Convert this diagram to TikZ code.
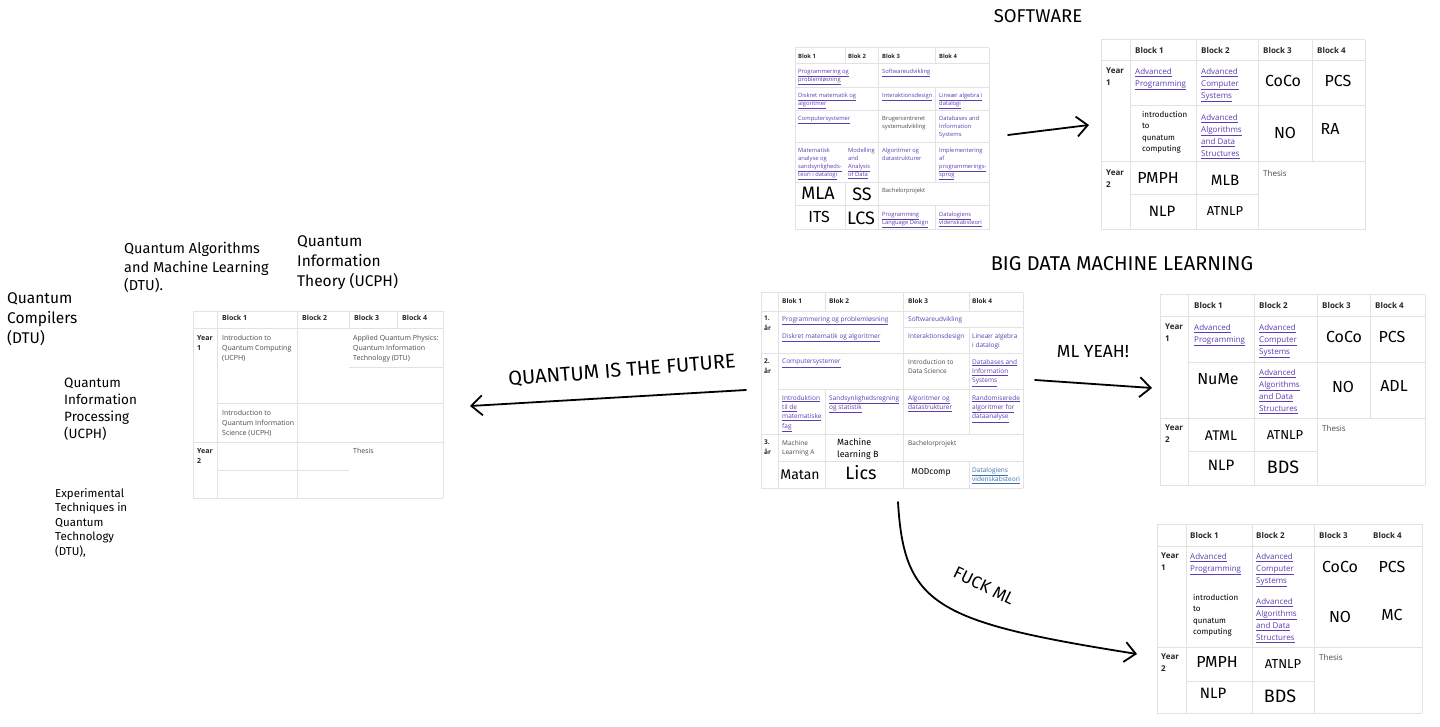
\documentclass[tikz,border=0pt]{standalone}
\usepackage{fontspec}
\setmainfont{Open Sans}
\newfontfamily\handfont{Fira Sans}
\usetikzlibrary{arrows.meta}

\definecolor{linkc}{HTML}{5B3FB0}
\definecolor{linkb}{HTML}{3A6FB0}
\definecolor{gridc}{HTML}{E2E2E2}
\definecolor{txtc}{HTML}{4A4A4A}
\newcommand{\lnk}[1]{\underline{#1}}

\tikzset{
  tline/.style={draw=gridc, line width=1pt},
  hd/.style={anchor=north west, inner sep=0pt, text=black!85,
    font=\bfseries\fontsize{#1}{#1}\selectfont},
  crs/.style={anchor=north west, inner sep=0pt, align=left, text=linkc},
  txt/.style={anchor=north west, inner sep=0pt, align=left, text=txtc},
  hw/.style={inner sep=0pt, font=\handfont\fontsize{#1}{#1}\selectfont},
  note/.style={anchor=north west, inner sep=0pt, align=left},
  shout/.style={inner sep=0pt, font=\handfont\fontsize{#1}{#1}\selectfont},
  pen/.style={line width=1.8pt, line cap=round,
    -{Straight Barb[length=11pt,width=20pt,line width=1.8pt]}},
}

\begin{document}
\begin{tikzpicture}[x=1pt, y=-1pt]
\useasboundingbox (0,0) rectangle (1440,727);
\fill[white] (0,0) rectangle (1440,727);

% titles and comments
\node[shout=18.5] (t-sw) at (1038,16) {SOFTWARE};
\node[shout=20] (t-bd) at (1122,264) {BIG DATA MACHINE LEARNING};
\node[shout=20, rotate=4.5] (t-qf) at (622,371) {QUANTUM IS THE FUTURE};
\node[shout=17.5] (t-ml) at (1093,352) {ML YEAH!};
\node[shout=17, rotate=-26] (t-fm) at (984,586) {FUCK ML};

% quantum course notes
\begin{scope}[font=\handfont\fontsize{14.5}{18.5}\selectfont]
  \node[note] (n-qaml) at (124,242) {Quantum Algorithms\\and Machine Learning\\(DTU).};
\end{scope}
\begin{scope}[font=\handfont\fontsize{15.5}{20}\selectfont]
  \node[note] (n-qit) at (297,235) {Quantum\\Information\\Theory (UCPH)};
  \node[note] (n-qc) at (7,292) {Quantum\\Compilers\\(DTU)};
\end{scope}
\node[note, font=\handfont\fontsize{13.5}{17}\selectfont] (n-qip) at (64,378)
  {Quantum\\Information\\Processing\\(UCPH)};
\node[note, font=\handfont\fontsize{11.5}{14.5}\selectfont] (n-exp) at (55,488)
  {Experimental\\Techniques in\\Quantum\\Technology\\(DTU),};

% arrows
\coordinate (sw-s) at (1008,135);
\coordinate (sw-e) at (1089,125);
\coordinate (qf-s) at (746,390);
\coordinate (qf-e) at (470,406);
\coordinate (ml-s) at (1035,380);
\coordinate (ml-e) at (1152,388);
\coordinate (fm-s) at (898,502);
\coordinate (fm-e) at (1137,654);
\draw[pen] (sw-s) -- (sw-e);
\draw[pen] (qf-s) -- (qf-e);
\draw[pen] (ml-s) -- (ml-e);
\draw[pen] (fm-s) .. controls (904,605) and (935,622) .. (fm-e);

% software, old plan
\foreach \y in {48,64,88,111,143,183,206,230}
  \draw[tline] (795,\y) -- (989,\y);
\draw[tline] (795,48) -- (795,230) (989,48) -- (989,230) (878,48) -- (878,230)
  (845,48) -- (845,64) (845,183) -- (845,230)
  (935,48) -- (935,64) (935,88) -- (935,183) (935,206) -- (935,230);
\begin{scope}[font=\fontsize{5.8}{8}\selectfont]
  \node[hd=5.8] (so-b1) at (798,54) {Blok 1};
  \node[hd=5.8] (so-b2) at (848,54) {Blok 2};
  \node[hd=5.8] (so-b3) at (882,54) {Blok 3};
  \node[hd=5.8] (so-b4) at (939,54) {Blok 4};
  \node[crs] (so-pp) at (798,69) {\lnk{Programmering og}\\\lnk{problemløsning}};
  \node[crs] (so-su) at (882,69) {\lnk{Softwareudvikling}};
  \node[crs] (so-dm) at (798,93) {\lnk{Diskret matematik og}\\\lnk{algoritmer}};
  \node[crs] (so-id) at (882,93) {\lnk{Interaktionsdesign}};
  \node[crs] (so-la) at (939,93) {\lnk{Lineær algebra i}\\\lnk{datalogi}};
  \node[crs] (so-cs) at (798,116) {\lnk{Computersystemer}};
  \node[txt] (so-bs) at (882,116) {Brugercentreret\\systemudvikling};
  \node[crs] (so-db) at (939,116) {Databases and\\Information\\Systems};
  \node[crs] (so-ma) at (798,148) {Matematisk\\analyse og\\\lnk{sandsynligheds-}\\\lnk{teori i datalogi}};
  \node[crs] (so-mad) at (848,148) {Modelling\\and\\\lnk{Analysis}\\\lnk{of Data}};
  \node[crs] (so-ad) at (882,148) {Algoritmer og\\datastrukturer};
  \node[crs] (so-ip) at (939,148) {Implementering\\af\\\lnk{programmerings-}\\\lnk{sprog}};
  \node[txt] (so-bp) at (882,188) {Bachelorprojekt};
  \node[crs] (so-pld) at (882,212) {\lnk{Programming}\\\lnk{Language Design}};
  \node[crs] (so-dv) at (939,212) {\lnk{Datalogiens}\\\lnk{videnskabsteori}};
\end{scope}
\node[hw=18] (so-mla) at (818,193) {MLA};
\node[hw=18] (so-ss) at (862,194) {SS};
\node[hw=16] (so-its) at (819,217) {ITS};
\node[hw=18] (so-lcs) at (861,218) {LCS};

% software, new plan
\foreach \y in {40,61,162,230}
  \draw[tline] (1101,\y) -- (1365,\y);
\draw[tline] (1130,106) -- (1365,106) (1130,195) -- (1258,195);
\foreach \x in {1101,1130,1196,1258,1365}
  \draw[tline] (\x,40) -- (\x,230);
\draw[tline] (1312,40) -- (1312,162);
\begin{scope}[font=\fontsize{8}{12}\selectfont]
  \node[hd=8] (sn-b1) at (1135,47) {Block 1};
  \node[hd=8] (sn-b2) at (1201,47) {Block 2};
  \node[hd=8] (sn-b3) at (1263,47) {Block 3};
  \node[hd=8] (sn-b4) at (1317,47) {Block 4};
  \node[hd=8, align=left, font=\bfseries\fontsize{8}{12}\selectfont] (sn-y1) at (1106,68) {Year\\1};
  \node[hd=8, align=left, font=\bfseries\fontsize{8}{12}\selectfont] (sn-y2) at (1106,170) {Year\\2};
  \node[crs] (sn-ap) at (1135,68) {\lnk{Advanced}\\\lnk{Programming}};
  \node[crs] (sn-acs) at (1201,68) {\lnk{Advanced}\\\lnk{Computer}\\\lnk{Systems}};
  \node[crs] (sn-aad) at (1201,114) {\lnk{Advanced}\\\lnk{Algorithms}\\\lnk{and Data}\\\lnk{Structures}};
  \node[txt] (sn-th) at (1263,170) {Thesis};
\end{scope}
\node[note, font=\handfont\fontsize{8}{11.5}\selectfont] (sn-iqc) at (1142,111)
  {introduction\\to\\qunatum\\computing};
\node[hw=16] (sn-coco) at (1283,81) {CoCo};
\node[hw=16] (sn-pcs) at (1338,81) {PCS};
\node[hw=16] (sn-no) at (1285,133) {NO};
\node[hw=16] (sn-ra) at (1330,129) {RA};
\node[hw=16] (sn-pmph) at (1158,178) {PMPH};
\node[hw=15] (sn-mlb) at (1225,180) {MLB};
\node[hw=15] (sn-nlp) at (1162,211) {NLP};
\node[hw=13] (sn-atnlp) at (1225,211) {ATNLP};

% quantum plan
\foreach \y in {311,328,442,498}
  \draw[tline] (193,\y) -- (443,\y);
\draw[tline] (217,403) -- (443,403) (349,367) -- (443,367) (217,470) -- (349,470);
\foreach \x in {193,217,297,443}
  \draw[tline] (\x,311) -- (\x,498);
\draw[tline] (349,311) -- (349,328) (397,311) -- (397,328);
\begin{scope}[font=\fontsize{7}{10}\selectfont]
  \node[hd=7] (qt-b1) at (222,315) {Block 1};
  \node[hd=7] (qt-b2) at (302,315) {Block 2};
  \node[hd=7] (qt-b3) at (354,315) {Block 3};
  \node[hd=7] (qt-b4) at (402,315) {Block 4};
  \node[hd=7, align=left, font=\bfseries\fontsize{7}{10}\selectfont] (qt-y1) at (197,335) {Year\\1};
  \node[hd=7, align=left, font=\bfseries\fontsize{7}{10}\selectfont] (qt-y2) at (197,448) {Year\\2};
  \node[txt] (qt-iqc) at (222,335) {Introduction to\\Quantum Computing\\(UCPH)};
  \node[txt] (qt-aqp) at (353,335) {Applied Quantum Physics:\\Quantum Information\\Technology (DTU)};
  \node[txt] (qt-iqis) at (222,410) {Introduction to\\Quantum Information\\Science (UCPH)};
  \node[txt] (qt-th) at (353,448) {Thesis};
\end{scope}

% big data plan, danish
\foreach \y in {293,311,353,434,488}
  \draw[tline] (761,\y) -- (1023,\y);
\draw[tline] (903,327) -- (1023,327) (778,389) -- (1023,389) (778,461) -- (1023,461);
\foreach \x in {761,778,903,1023}
  \draw[tline] (\x,293) -- (\x,488);
\draw[tline] (825,293) -- (825,311) (825,389) -- (825,488)
  (969,293) -- (969,311) (969,327) -- (969,434) (969,461) -- (969,488);
\begin{scope}[font=\fontsize{6.5}{9.3}\selectfont]
  \node[hd=6.5] (dk-b1) at (782,298) {Blok 1};
  \node[hd=6.5] (dk-b2) at (829,298) {Blok 2};
  \node[hd=6.5] (dk-b3) at (908,298) {Blok 3};
  \node[hd=6.5] (dk-b4) at (972,298) {Blok 4};
  \node[hd=6.5, align=left, font=\bfseries\fontsize{6.5}{9.3}\selectfont] (dk-y1) at (764,316) {1.\\år};
  \node[hd=6.5, align=left, font=\bfseries\fontsize{6.5}{9.3}\selectfont] (dk-y2) at (764,359) {2.\\år};
  \node[hd=6.5, align=left, font=\bfseries\fontsize{6.5}{9.3}\selectfont] (dk-y3) at (764,440) {3.\\år};
  \node[crs] (dk-pp) at (782,316) {\lnk{Programmering og problemløsning}};
  \node[crs] (dk-su) at (908,316) {Softwareudvikling};
  \node[crs] (dk-dm) at (782,333) {\lnk{Diskret matematik og algoritmer}};
  \node[crs] (dk-id) at (908,333) {Interaktionsdesign};
  \node[crs] (dk-la) at (972,333) {Lineær algebra\\i datalogi};
  \node[crs] (dk-cs) at (782,359) {\lnk{Computersystemer}};
  \node[txt] (dk-ids) at (908,359) {Introduction to\\Data Science};
  \node[crs] (dk-db) at (972,359) {\lnk{Databases and}\\\lnk{Information}\\\lnk{Systems}};
  \node[crs] (dk-imf) at (782,395) {\lnk{Introduktion}\\\lnk{til de}\\\lnk{matematiske}\\\lnk{fag}};
  \node[crs] (dk-ss) at (829,395) {\lnk{Sandsynlighedsregning}\\\lnk{og statistik}};
  \node[crs] (dk-ad) at (908,395) {\lnk{Algoritmer og}\\\lnk{datastrukturer}};
  \node[crs] (dk-ra) at (972,395) {\lnk{Randomiserede}\\\lnk{algoritmer for}\\\lnk{dataanalyse}};
  \node[txt] (dk-mla) at (782,440) {Machine\\Learning A};
  \node[txt] (dk-bp) at (908,440) {Bachelorprojekt};
  \node[crs, text=linkb] (dk-dv) at (972,467) {\lnk{Datalogiens}\\\lnk{videnskabsteori}};
\end{scope}
\node[note, font=\handfont\fontsize{9}{12}\selectfont] (dk-mlb) at (837,438) {Machine\\learning B};
\node[hw=14] (dk-matan) at (800,475) {Matan};
\node[hw=18] (dk-lics) at (861,473) {Lics};
\node[hw=8.5] (dk-mod) at (931,472) {MODcomp};

% big data plan, new
\foreach \y in {295,316,418,485}
  \draw[tline] (1160,\y) -- (1425,\y);
\draw[tline] (1188,362) -- (1425,362) (1188,451) -- (1317,451);
\foreach \x in {1160,1188,1254,1317,1425}
  \draw[tline] (\x,295) -- (\x,485);
\draw[tline] (1370,295) -- (1370,418);
\begin{scope}[font=\fontsize{8}{12}\selectfont]
  \node[hd=8] (ml-b1) at (1194,302) {Block 1};
  \node[hd=8] (ml-b2) at (1259,302) {Block 2};
  \node[hd=8] (ml-b3) at (1322,302) {Block 3};
  \node[hd=8] (ml-b4) at (1375,302) {Block 4};
  \node[hd=8, align=left, font=\bfseries\fontsize{8}{12}\selectfont] (ml-y1) at (1165,324) {Year\\1};
  \node[hd=8, align=left, font=\bfseries\fontsize{8}{12}\selectfont] (ml-y2) at (1165,425) {Year\\2};
  \node[crs] (ml-ap) at (1194,324) {\lnk{Advanced}\\\lnk{Programming}};
  \node[crs] (ml-acs) at (1259,324) {\lnk{Advanced}\\\lnk{Computer}\\\lnk{Systems}};
  \node[crs] (ml-aad) at (1259,369) {\lnk{Advanced}\\\lnk{Algorithms}\\\lnk{and Data}\\\lnk{Structures}};
  \node[txt] (ml-th) at (1322,425) {Thesis};
\end{scope}
\node[hw=16] (ml-coco) at (1344,337) {CoCo};
\node[hw=16] (ml-pcs) at (1392,337) {PCS};
\node[hw=16] (ml-nume) at (1218,379) {NuMe};
\node[hw=16] (ml-no) at (1343,387) {NO};
\node[hw=16] (ml-adl) at (1394,386) {ADL};
\node[hw=14] (ml-atml) at (1221,436) {ATML};
\node[hw=13] (ml-atnlp) at (1285,435) {ATNLP};
\node[hw=15] (ml-nlp) at (1221,465) {NLP};
\node[hw=18] (ml-bds) at (1283,467) {BDS};

% no ML plan
\foreach \y in {524,546,647,713}
  \draw[tline] (1157,\y) -- (1422,\y);
\draw[tline] (1186,681) -- (1314,681);
\foreach \x in {1157,1186,1252,1314,1422}
  \draw[tline] (\x,524) -- (\x,713);
\begin{scope}[font=\fontsize{8}{12}\selectfont]
  \node[hd=8] (fm-b1) at (1190,532) {Block 1};
  \node[hd=8] (fm-b2) at (1256,532) {Block 2};
  \node[hd=8] (fm-b3) at (1319,532) {Block 3};
  \node[hd=8] (fm-b4) at (1373,532) {Block 4};
  \node[hd=8, align=left, font=\bfseries\fontsize{8}{12}\selectfont] (fm-y1) at (1161,553) {Year\\1};
  \node[hd=8, align=left, font=\bfseries\fontsize{8}{12}\selectfont] (fm-y2) at (1161,654) {Year\\2};
  \node[crs] (fm-ap) at (1190,553) {\lnk{Advanced}\\\lnk{Programming}};
  \node[crs] (fm-acs) at (1256,553) {\lnk{Advanced}\\\lnk{Computer}\\\lnk{Systems}};
  \node[crs] (fm-aad) at (1256,598) {\lnk{Advanced}\\\lnk{Algorithms}\\\lnk{and Data}\\\lnk{Structures}};
  \node[txt] (fm-th) at (1319,654) {Thesis};
\end{scope}
\node[note, font=\handfont\fontsize{8}{11.5}\selectfont] (fm-iqc) at (1193,594)
  {introduction\\to\\qunatum\\computing};
\node[hw=16] (fm-coco) at (1340,567) {CoCo};
\node[hw=16] (fm-pcs) at (1392,567) {PCS};
\node[hw=16] (fm-no) at (1340,617) {NO};
\node[hw=16] (fm-mc) at (1392,615) {MC};
\node[hw=16] (fm-pmph) at (1217,662) {PMPH};
\node[hw=13] (fm-atnlp) at (1283,664) {ATNLP};
\node[hw=15] (fm-nlp) at (1213,693) {NLP};
\node[hw=18] (fm-bds) at (1280,696) {BDS};
\end{tikzpicture}
\end{document}
